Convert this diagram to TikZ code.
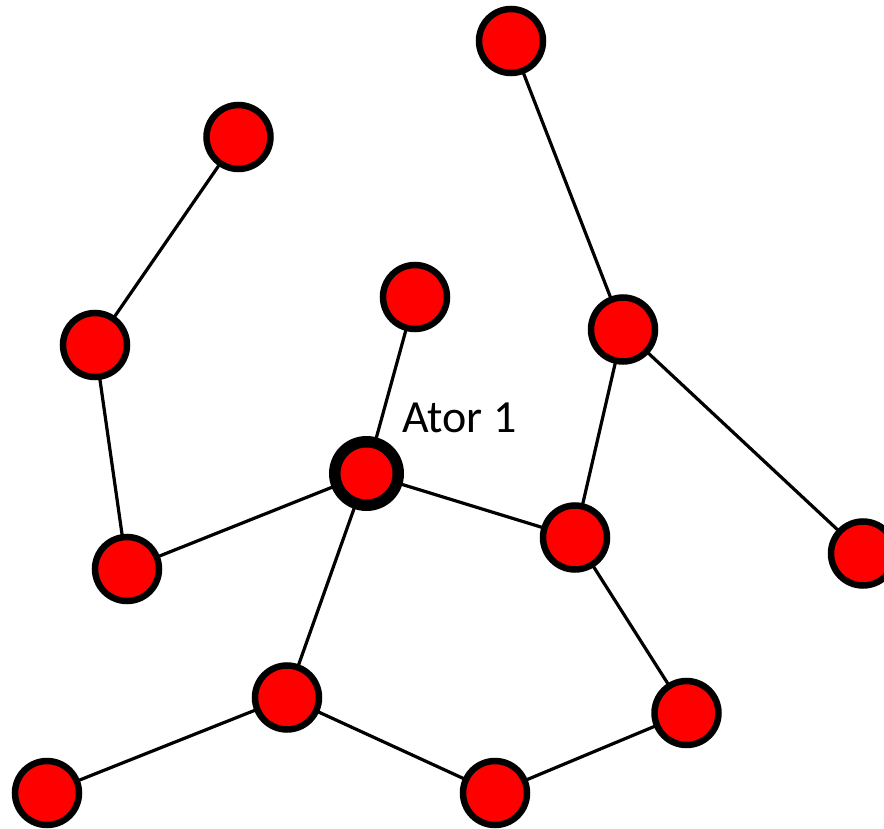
\documentclass[tikz,border=0pt]{standalone}
\usepackage{fontspec}
\newfontfamily\carlito{Carlito}
\begin{document}
\begin{tikzpicture}[x=1pt,y=-1pt,
  vert/.style={circle,draw=black,fill=red,line width=6.5pt,minimum size=64pt,inner sep=0pt,outer sep=0pt},
  actor/.style={circle,draw=black,fill=red,line width=11.5pt,minimum size=63.5pt,inner sep=0pt,outer sep=0pt},
  link/.style={draw=black,line width=3.2pt}]
\useasboundingbox (0,0) rectangle (884,829);
\node[vert] (n1) at (511,41) {};
\node[vert] (n2) at (238.5,137) {};
\node[vert] (n3) at (95,345) {};
\node[vert] (n4) at (415,297) {};
\node[vert] (n5) at (623,329.5) {};
\node[actor] (a1) at (366.5,473.5) {};
\node[vert] (n7) at (127,569) {};
\node[vert] (n8) at (575,537.5) {};
\node[vert] (n9) at (863,553.5) {};
\node[vert] (n10) at (287,697.5) {};
\node[vert] (n11) at (686.5,713) {};
\node[vert] (n12) at (47,793) {};
\node[vert] (n13) at (495,793) {};
\path[link] (n1) -- (n5);
\path[link] (n2) -- (n3);
\path[link] (n3) -- (n7);
\path[link] (n4) -- (a1);
\path[link] (a1) -- (n7);
\path[link] (a1) -- (n8);
\path[link] (a1) -- (n10);
\path[link] (n5) -- (n8);
\path[link] (n5) -- (n9);
\path[link] (n8) -- (n11);
\path[link] (n10) -- (n12);
\path[link] (n10) -- (n13);
\path[link] (n13) -- (n11);
\node[anchor=base west,inner sep=0pt,font=\carlito\fontsize{46}{55}\selectfont] (lbl) at (402,432) {Ator 1};
\end{tikzpicture}
\end{document}
